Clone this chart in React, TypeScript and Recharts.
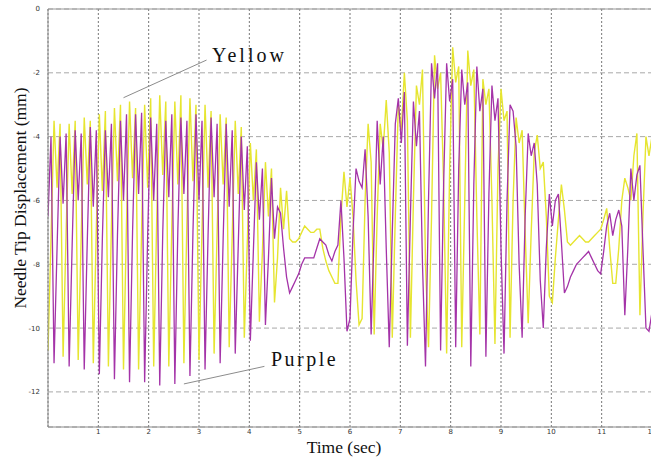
import React from 'react';
import { LineChart, Line, XAxis, YAxis, CartesianGrid, ReferenceLine } from 'recharts';

// sampling step of the recorded displacement (sec)
const TIME_STEP = 0.06;

const xTicks = [1, 2, 3, 4, 5, 6, 7, 8, 9, 10, 11, 12];
const yTicks = [-12, -10, -8, -6, -4, -2, 0];

// needle tip displacement (mm), yellow marker
const yellowMm = [
  -10.7, -7.2, -3.5, -5.6, -3.6,
  -10.9, -7.0, -3.6, -5.8, -3.5,
  -11.0, -7.1, -3.4, -5.5, -3.5,
  -11.1, -6.9, -3.3, -5.7, -3.2,
  -11.2, -6.8, -3.1, -5.4, -3.0,
  -11.3, -6.7, -2.9, -5.3, -3.1,
  -11.3, -6.9, -3.0, -5.6, -2.8,
  -11.2, -6.6, -2.7, -5.2, -2.9,
  -11.2, -6.8, -2.9, -5.5, -2.7,
  -11.1, -6.7, -2.8, -5.4, -3.0,
  -11.0, -6.9, -3.0, -5.6, -3.2,
  -10.8, -7.0, -3.3, -5.5, -3.4,
  -10.6, -7.1, -3.5, -5.8, -3.7,
  -10.3, -7.3, -4.2, -6.0, -4.4,
  -9.8, -7.6, -4.8, -6.5, -5.0,
  -9.2, -7.8, -5.6, -6.9, -5.7,
  -7.2, -7.3, -7.3, -7.2, -7.0, -6.8, -6.9, -7.0, -7.0, -6.9,
  -6.9, -7.5, -7.9, -8.2, -8.4, -8.6, -8.6, -6.5, -5.1, -6.2,
  -5.3, -6.5, -8.5, -9.9, -9.7,
  -6.0, -3.6, -4.8, -10.2, -6.5, -3.6, -4.4, -2.85, -4.5, -10.3,
  -6.5, -3.0, -3.8, -2.0, -3.5, -10.3, -6.0, -2.4, -3.0, -1.9,
  -8.0, -10.6, -6.5,
  -1.45, -2.5, -2.0, -5.5, -10.8, -5.0, -1.2, -2.3, -1.8, -10.6,
  -6.0, -1.3, -2.4, -1.9, -6.5, -10.2, -2.2, -3.0, -2.5, -6.0,
  -10.5, -5.0, -2.5, -3.5, -3.2, -10.3, -6.0, -3.4, -4.2, -3.8,
  -7.0, -9.85, -7.0, -4.5, -3.95, -5.0, -4.8, -6.5, -9.0, -9.2,
  -7.8, -6.6, -5.5, -6.3, -7.3, -7.4, -7.3, -7.2, -7.1, -7.2,
  -7.3, -7.3, -7.2, -7.1, -7.0, -6.9, -6.6, -6.25, -7.5, -8.6,
  -8.6, -7.5, -6.0, -5.3, -5.6, -6.0, -4.6, -3.9, -9.6, -6.5,
  -4.0, -4.6, -4.0,
];

// needle tip displacement (mm), purple marker
const purpleMm = [
  -6.5, -4.0,
  -11.1, -7.5, -4.0, -6.1, -3.9,
  -11.2, -7.4, -3.8, -6.0, -3.9,
  -11.3, -7.3, -3.7, -6.2, -3.8,
  -11.45, -7.2, -3.8, -5.9, -3.6,
  -11.6, -7.1, -3.5, -6.0, -3.3,
  -11.7, -7.0, -3.3, -5.8, -3.25,
  -11.7, -7.1, -3.4, -6.0, -3.6,
  -11.8, -7.0, -3.5, -5.9, -3.3,
  -11.75, -6.9, -3.4, -5.8, -3.5,
  -11.5, -7.0, -3.3, -6.0, -3.5,
  -11.3, -7.1, -3.4, -5.9, -3.6,
  -11.1, -7.2, -3.6, -6.2, -3.8,
  -10.8, -7.4, -4.0, -6.3, -4.3,
  -10.4, -7.6, -4.8, -6.6, -5.0,
  -9.9, -7.8, -5.3, -7.2, -6.2,
  -6.4, -7.5, -8.4, -8.9, -8.7, -8.5, -8.3, -8.0, -7.8, -7.8,
  -7.8, -7.8, -7.5, -7.2, -7.3, -7.4, -7.7, -7.9, -7.6, -7.4,
  -6.0, -7.8, -10.1, -9.7, -7.0, -5.0, -5.4, -5.6,
  -4.4, -6.5, -10.2, -7.0, -3.5, -5.5, -4.0, -7.5, -10.6, -7.0,
  -3.6, -2.8, -4.2, -2.6, -10.55, -6.5, -2.9, -4.3, -3.2, -8.0,
  -11.2, -6.0, -1.7, -2.8, -1.7, -10.7, -5.5, -1.7, -2.9, -2.2,
  -10.6, -5.0, -1.9, -3.0, -2.3, -11.2, -5.5, -1.8, -3.2, -2.5,
  -10.9, -5.8, -2.4, -3.5, -2.8, -7.5, -10.8, -6.0, -3.0, -3.2,
  -4.3, -8.0, -10.3, -6.5, -3.9, -4.6, -4.2, -5.5, -8.5, -10.0,
  -7.5, -5.8, -6.8, -6.0, -5.8, -7.3, -8.9, -8.7, -8.4, -8.2,
  -8.0, -7.9, -7.8, -7.7, -7.6, -7.8, -8.0, -8.2, -8.3, -7.6,
  -6.8, -6.4, -7.1, -6.6, -6.3, -6.8, -9.6, -7.5, -5.0, -6.0,
  -5.2, -4.9, -7.5, -10.0, -10.1, -9.5,
];

const rows = yellowMm.map((v, i) => ({
  t: Number((i * TIME_STEP).toFixed(2)),
  yellow: v,
  purple: purpleMm[i],
}));

const serif = '"Liberation Serif", "Times New Roman", serif';

const App = () => {
  return (
    <div
      style={{
        position: 'absolute',
        left: 0,
        top: 0,
        width: 651,
        height: 463,
        overflow: 'hidden',
        background: '#fff',
      }}
    >
      <LineChart width={660} height={463} data={rows} margin={{ top: 9, right: 8, bottom: 16, left: 0 }}>
        <CartesianGrid horizontal vertical={false} stroke="#a8a8a8" strokeDasharray="5 3" />
        <CartesianGrid horizontal={false} vertical stroke="#777" strokeDasharray="2 2" />
        <XAxis
          type="number"
          dataKey="t"
          domain={[0, 12]}
          ticks={xTicks}
          height={20}
          tickLine={false}
          tickSize={0}
          tickMargin={2}
          axisLine={{ stroke: '#8a8a8a' }}
          tick={{ fontSize: 7, fill: '#333', fontFamily: 'DejaVu Sans' }}
          allowDataOverflow
        />
        <YAxis
          type="number"
          domain={[-13.1, 0]}
          ticks={yTicks}
          width={48}
          tickLine={false}
          axisLine={{ stroke: '#8a8a8a' }}
          tick={{ fontSize: 7, fill: '#333', fontFamily: 'DejaVu Sans' }}
          allowDataOverflow
        />
        <ReferenceLine y={0} stroke="#999" />
        <Line
          type="linear"
          dataKey="yellow"
          stroke="#e6e530"
          strokeWidth={1.4}
          dot={false}
          isAnimationActive={false}
        />
        <Line
          type="linear"
          dataKey="purple"
          stroke="#a433a8"
          strokeWidth={1.3}
          dot={false}
          isAnimationActive={false}
        />
        <ReferenceLine
          segment={[{ x: 1.5, y: -2.78 }, { x: 3.15, y: -1.6 }]}
          stroke="#8c8c8c"
          ifOverflow="visible"
        />
        <ReferenceLine
          segment={[{ x: 2.7, y: -11.75 }, { x: 4.3, y: -11.2 }]}
          stroke="#8c8c8c"
          ifOverflow="visible"
        />
      </LineChart>

      <div style={{ position: 'absolute', left: 212, top: 44, fontFamily: serif, fontSize: 20, letterSpacing: 3, color: '#111' }}>
        Yellow
      </div>
      <div style={{ position: 'absolute', left: 271, top: 348, fontFamily: serif, fontSize: 20, letterSpacing: 2.5, color: '#111' }}>
        Purple
      </div>
      <div
        style={{
          position: 'absolute',
          left: 344,
          top: 447,
          transform: 'translate(-50%, -50%)',
          fontFamily: serif,
          fontSize: 17.5,
          whiteSpace: 'nowrap',
          color: '#111',
        }}
      >
        Time (sec)
      </div>
      <div
        style={{
          position: 'absolute',
          left: 20,
          top: 198,
          transform: 'translate(-50%, -50%) rotate(-90deg)',
          fontFamily: serif,
          fontSize: 17.5,
          whiteSpace: 'nowrap',
          color: '#111',
        }}
      >
        Needle Tip Displacement (mm)
      </div>
    </div>
  );
};

export default App;
